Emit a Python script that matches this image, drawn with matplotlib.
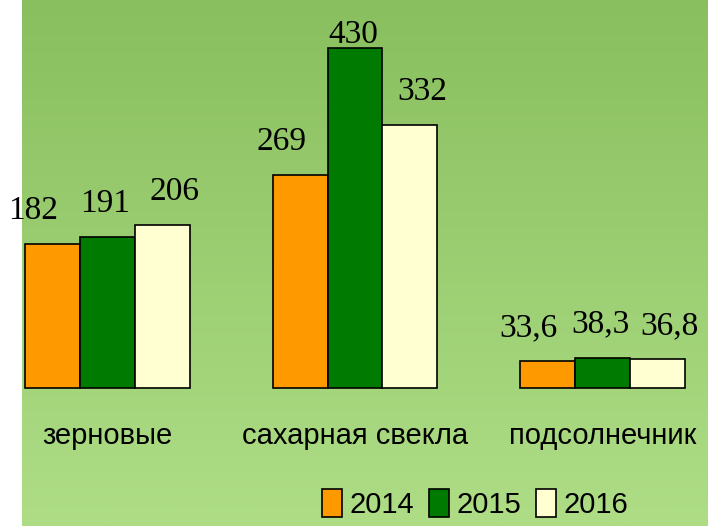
import matplotlib
matplotlib.use('Agg')
import matplotlib.pyplot as plt
import matplotlib.patches as mpatches
import numpy as np

# production by crop, three years
categories = ['зерновые', 'сахарная свекла', 'подсолнечник']
years = ['2014', '2015', '2016']
v2014 = [182, 269, 33.6]
v2015 = [191, 430, 38.3]
v2016 = [206, 332, 36.8]
labels2014 = ['182', '269', '33,6']
labels2015 = ['191', '430', '38,3']
labels2016 = ['206', '332', '36,8']

colors = ['#FF9900', '#007A00', '#FFFFD2']

W, H = 708, 526
fig = plt.figure(figsize=(W / 100, H / 100), dpi=100)
fig.patch.set_facecolor('white')

# green gradient background (white strip on the left)
bg = fig.add_axes([22 / W, 0, 1 - 22 / W, 1])
top = np.array([0x89, 0xBF, 0x5E]) / 255
bot = np.array([0xAE, 0xDD, 0x86]) / 255
t = np.linspace(0, 1, 256)[:, None]
grad = top[None, :] * (1 - t) + bot[None, :] * t
bg.imshow(grad[:, None, :], aspect='auto', extent=[0, 1, 0, 1])
bg.axis('off')

ax = fig.add_axes([0, 0, 1, 1])
ax.patch.set_alpha(0)
ax.axis('off')

px_unit_x = 247.5
x0_px = 107.5
px_unit_y = 0.791
base_px = 138
ax.set_xlim(-x0_px / px_unit_x, (W - x0_px) / px_unit_x)
ax.set_ylim(-base_px / px_unit_y, (H - base_px) / px_unit_y)

x = np.arange(len(categories))
bw = 0.222
series = [v2014, v2015, v2016]
texts = [labels2014, labels2015, labels2016]
label_dx = [-19, -2, 12]  # px shift of value labels

for i, (vals, labs) in enumerate(zip(series, texts)):
    xs = x + (i - 1) * bw
    ax.bar(xs, vals, width=bw, color=colors[i], edgecolor='black',
           linewidth=1.2, zorder=3)
    for xi, v, lab in zip(xs, vals, labs):
        ytxt = min(v + 25 / px_unit_y, (H - base_px - 43) / px_unit_y)
        ax.annotate(lab, (xi, ytxt), xytext=(label_dx[i] * 0.72, 0),
                    textcoords='offset points', ha='center', va='baseline',
                    fontsize=24, family=['Liberation Serif', 'DejaVu Serif'],
                    color='black')

sans = ['Liberation Sans', 'DejaVu Sans']
for xi, c in zip(x, categories):
    ax.text(xi, -(444 - 388) / px_unit_y, c, ha='center', va='baseline',
            fontsize=21, family=sans, color='black')

handles = [mpatches.Patch(facecolor=colors[i], edgecolor='black', linewidth=1.2,
                          label=years[i]) for i in range(3)]
fig.legend(handles=handles, loc='lower center', bbox_to_anchor=(475 / W, -0.036),
           ncol=3, frameon=False, handlelength=0.7, handleheight=1.1,
           handletextpad=0.25, columnspacing=0.5,
           prop={'family': sans, 'size': 21})

fig.savefig('out.png', dpi=100)
